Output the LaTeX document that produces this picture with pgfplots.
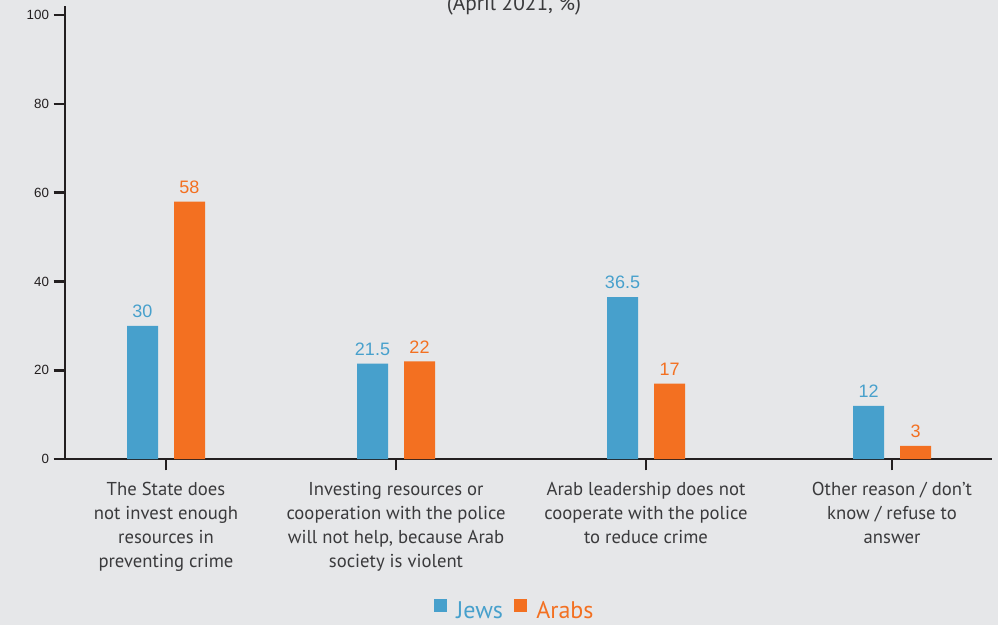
\documentclass[border=0pt]{standalone}
\usepackage{pgfplots}
\pgfplotsset{compat=1.18}
\usepackage{fontspec}
\setmainfont{PT Sans}
\newfontfamily\numfont{Liberation Sans}
\usetikzlibrary{backgrounds}
\definecolor{bg}{HTML}{E6E7E9}
\definecolor{jblue}{HTML}{47A0CC}
\definecolor{aorange}{HTML}{F37021}
\definecolor{ink}{HTML}{231F20}
\definecolor{txt}{HTML}{3A3A3C}

\begin{document}
\begin{tikzpicture}
\begin{axis}[
  scale only axis, width=695.25pt, height=339.75pt,
  xmin=65, xmax=992, ymin=0, ymax=102,
  axis x line=bottom, axis y line=left,
  axis line style={-, ink, line width=2pt},
  /pgf/number format/assume math mode=true,
  ytick={0,20,...,100},
  xtick={166,396,646,892},
  xticklabels={{The State does\\not invest enough\\resources in\\preventing crime},
    {Investing resources or\\cooperation with the police\\will not help, because Arab\\society is violent},
    {Arab leadership does not\\cooperate with the police\\to reduce crime},
    {Other reason / don’t\\know / refuse to\\answer}},
  tick align=outside,
  major tick length=8.5pt,
  tick style={ink, line width=1.8pt},
  y tick label style={font=\numfont\fontsize{10}{11}\selectfont, text=ink},
  x tick label style={font=\fontsize{14}{18}\selectfont, text=txt, align=center, yshift=-5pt},
  ybar, bar width=23.25pt,
  clip=false,
  nodes near coords,
  every node near coord/.append style={font=\numfont\fontsize{13.5}{14}\selectfont, inner sep=0pt, yshift=6pt},
  legend style={at={(0.4854,-0.335)}, anchor=center, draw=none, fill=none,
    legend columns=2, font=\fontsize{18}{20}\selectfont, inner sep=1pt,
    /tikz/every odd column/.append style={column sep=5pt},
    /tikz/every even column/.append style={column sep=6pt}},
  legend image code/.code={\fill[#1] (0pt,-1pt) rectangle (10pt,9pt);},
]
\addplot[fill=jblue, draw=none, bar shift=-17.625pt,
  every node near coord/.append style={text=jblue}]
  coordinates {(166,30) (396,21.5) (646,36.5) (892,12)};
\addlegendentry{\textcolor{jblue}{Jews}}
\addplot[fill=aorange, draw=none, bar shift=17.625pt,
  every node near coord/.append style={text=aorange}]
  coordinates {(166,58) (396,22) (646,17) (892,3)};
\addlegendentry{\textcolor{aorange}{Arabs}}
\coordinate (bl) at (axis cs:0,-37.39);
\coordinate (tr) at (axis cs:998,103.38);
\node[anchor=base, font=\fontsize{16}{18}\selectfont, text=txt] at (axis cs:514,101.0) {(April 2021, \%)};
\end{axis}
\begin{scope}[on background layer]
  \fill[bg] (bl) rectangle (tr);
\end{scope}
\pgfresetboundingbox
\path[use as bounding box] (bl) rectangle (tr);
\end{tikzpicture}
\end{document}
